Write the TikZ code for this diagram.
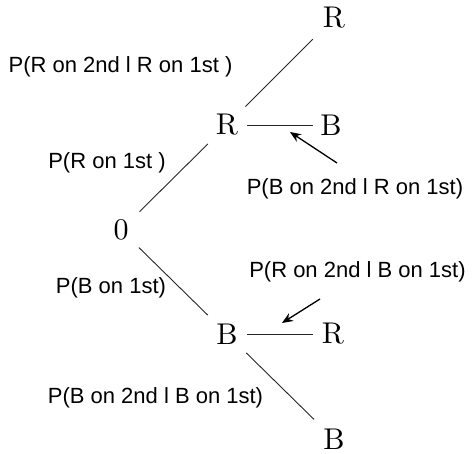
\documentclass[tikz,border=0pt]{standalone}
\usepackage{fontspec}
\newfontfamily\labfont{Liberation Sans}
\newfontfamily\cmten{lmroman10-regular}[Extension=.otf]
\usetikzlibrary{arrows.meta}
\begin{document}
\begin{tikzpicture}[x=1pt,y=-1pt,
  outcome/.style={inner sep=0pt,font=\cmten\fontsize{30}{30}\selectfont},
  prob/.style={inner sep=0pt,font=\labfont\fontsize{22}{22}\selectfont},
  branch/.style={line width=0.9pt,draw=black!85},
  pointer/.style={line width=1.3pt,-{Stealth[length=11pt,width=9pt]}}]
\useasboundingbox (0,0) rectangle (472,454);
% outcome nodes
\node[outcome] (o) at (121,230) {0};
\node[outcome] (r1) at (227,125) {R};
\node[outcome] (b1) at (227,334) {B};
\node[outcome] (rr) at (334,18) {R};
\node[outcome] (rb) at (331,125) {B};
\node[outcome] (br) at (333,334) {R};
\node[outcome] (bb) at (334,439) {B};
% branches
\draw[branch,shorten <=26pt,shorten >=27pt] (o.center) -- (r1.center);
\draw[branch,shorten <=25pt,shorten >=27pt] (o.center) -- (b1.center);
\draw[branch,shorten <=26pt,shorten >=30pt] (r1.center) -- (rr.center);
\draw[branch,shorten <=20pt,shorten >=18pt] (r1.center) -- (rb.center);
\draw[branch,shorten <=20pt,shorten >=20pt] (b1.center) -- (br.center);
\draw[branch,shorten <=27pt,shorten >=28pt] (b1.center) -- (bb.center);
% labels
\node[prob] (l1) at (120.5,67) {P(R on 2nd l R on 1st )};
\node[prob] (l2) at (107,163) {P(R on 1st )};
\node[prob] (l3) at (355,189) {P(B on 2nd l R on 1st)};
\node[prob] (l4) at (111,288) {P(B on 1st)};
\node[prob] (l5) at (357.5,272) {P(R on 2nd l B on 1st)};
\node[prob] (l6) at (155.5,398) {P(B on 2nd l B on 1st)};
% pointers
\coordinate (t1) at (290,132);
\coordinate (s1) at (337,163);
\coordinate (t2) at (282,323);
\coordinate (s2) at (320,299);
\draw[pointer] (s1) -- (t1);
\draw[pointer] (s2) -- (t2);
\end{tikzpicture}
\end{document}
